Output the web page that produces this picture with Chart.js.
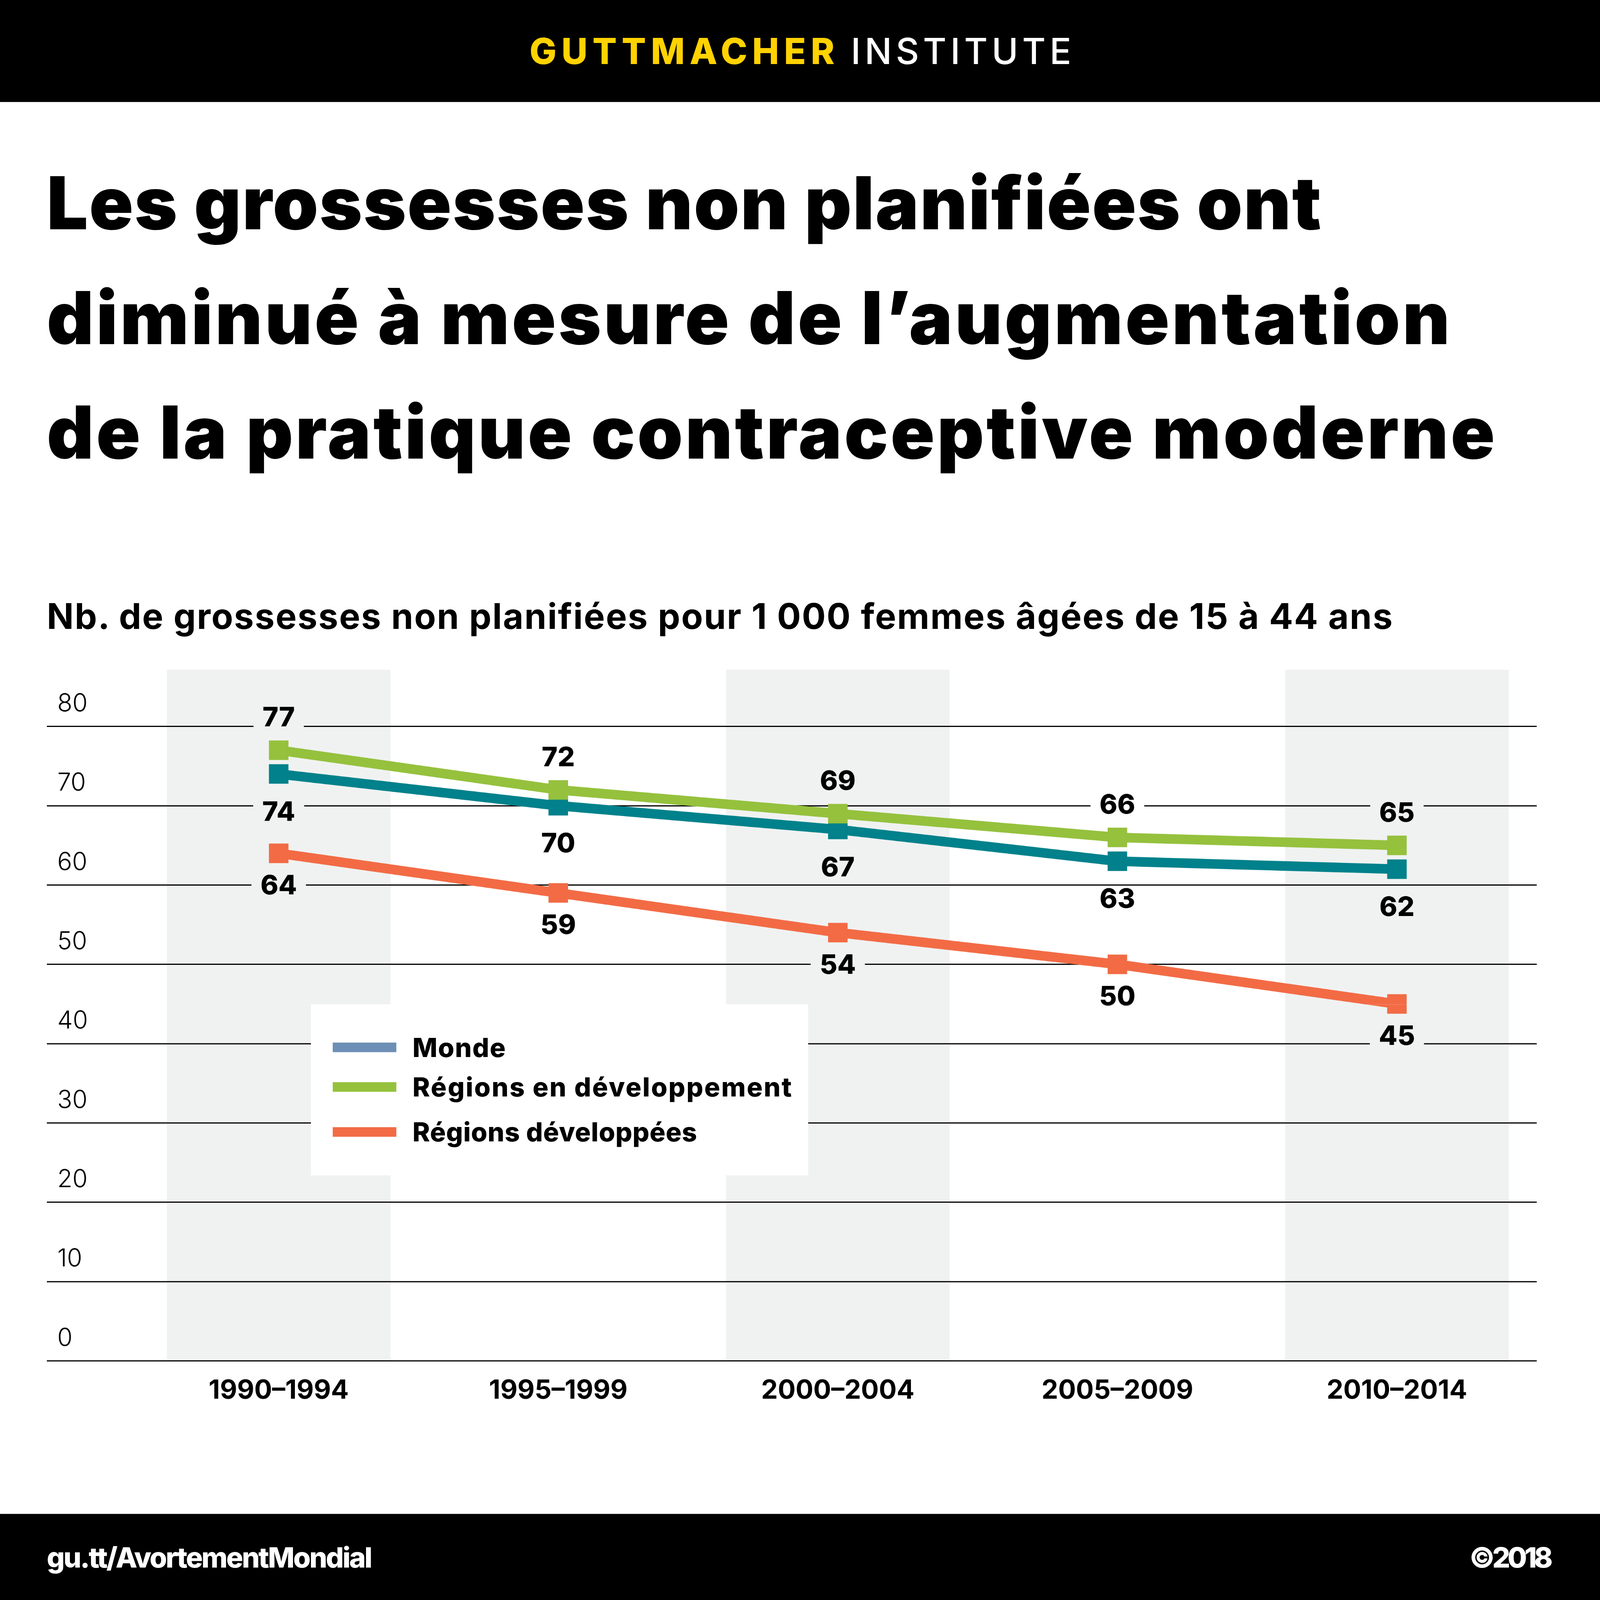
<!doctype html>
<html lang="fr">
<head>
<meta charset="utf-8">
<title>Grossesses non planifiées</title>
<script src="https://cdn.jsdelivr.net/npm/chart.js@4.4.1/dist/chart.umd.min.js"></script>
<style>
    :root { --k: 1; }
    html, body { margin: 0; padding: 0; overflow: hidden; background: #fff; }
    #page { position: absolute; left: 0; top: 0; width: 5333px; height: 4267px; transform-origin: 0 0;
            font-family: Inter, Lato, "Noto Sans", sans-serif; color: #000; background: #fff; }
    .t { position: absolute; line-height: 0; white-space: nowrap; }
    .bar { position: absolute; left: 0; width: 5333px; background: #000; }
    #topbar { top: 0; height: calc(272px * var(--k)); }
    #footbar { top: calc(4037px * var(--k)); height: calc(230px * var(--k)); }
    #brand1 { left: 1765px; top: calc(136px * var(--k)); font-size: 120px; font-weight: 800; color: #ffd200; }
    #brand2 { left: 2836px; top: calc(136px * var(--k)); font-size: 120px; font-weight: 500; color: #fff; }
    .title { left: 156px; font-size: 243px; font-weight: 900; }
    #t1 { top: calc(541px * var(--k)); }
    #t2 { top: calc(847px * var(--k)); }
    #t3 { top: calc(1153px * var(--k)); }
    #sub { left: 156px; top: calc(1643px * var(--k)); font-size: 118px; font-weight: 700; }
    #wrap { position: absolute; left: 0; top: calc(1700px * var(--k)); width: 5333px; height: calc(2200px * var(--k)); }
    #legend { position: absolute; left: 1036px; top: calc(2678px * var(--k)); width: 1657px;
              height: calc(455px * var(--k)); background: #fff; }
    #legend .t { left: 339px; font-size: 88px; font-weight: 800; }
    #legend .sw { position: absolute; left: 73px; width: 212px; height: 32px; margin-top: -16px; }
    #foot1 { left: 156px; top: calc(4153px * var(--k)); font-size: 94px; font-weight: 800; color: #fff; }
    #foot2 { left: 4897px; top: calc(4153px * var(--k)); font-size: 94px; font-weight: 800; color: #fff; }
</style>
</head>
<body>
<div id="page">
    <div class="bar" id="topbar"></div>
    <div class="t" id="brand1">GUTTMACHER</div>
    <div class="t" id="brand2">INSTITUTE</div>

    <div class="t title" id="t1">Les grossesses non planifiées ont</div>
    <div class="t title" id="t2">diminué à mesure de l’augmentation</div>
    <div class="t title" id="t3">de la pratique contraceptive moderne</div>
    <div class="t" id="sub">Nb. de grossesses non planifiées pour 1 000 femmes âgées de 15 à 44 ans</div>

    <div id="wrap"><canvas id="myChart"></canvas></div>
    <div id="legend"></div>

    <div class="bar" id="footbar"></div>
    <div class="t" id="foot1">gu.tt/AvortementMondial</div>
    <div class="t" id="foot2">©2018</div>
</div>

<script>
    // data
    var categories = ['1990–1994', '1995–1999', '2000–2004', '2005–2009', '2010–2014'];
    var monde = [74, 70, 67, 63, 62];
    var enDeveloppement = [77, 72, 69, 66, 65];
    var developpees = [64, 59, 54, 50, 45];
    var seriesNames = ['Monde', 'Régions en développement', 'Régions développées'];
    var yTicks = [0, 10, 20, 30, 40, 50, 60, 70, 80];

    var lineColors = ['#00818b', '#95c13d', '#f26b45'];
    var legendColors = ['#6e8fb5', '#95c13d', '#f26b45'];
    var labelShift = [103, -85, 88];   // value label offset from point
    var bandColor = '#f0f2f1';

    // the design is 5333 wide; stretch vertically to fill the window
    var s = window.innerWidth / 5333;
    var k = (window.innerHeight / s) / 4267;
    var page = document.getElementById('page');
    document.documentElement.style.setProperty('--k', k);
    page.style.transform = 'scale(' + s + ')';
    page.style.height = (4267 * k) + 'px';

    // legend built from the series names
    var legend = document.getElementById('legend');
    var rowTops = [115, 221, 341];
    seriesNames.forEach(function (name, i) {
        var sw = document.createElement('div');
        sw.className = 'sw';
        sw.style.top = (rowTops[i] * k) + 'px';
        sw.style.background = legendColors[i];
        legend.appendChild(sw);
        var row = document.createElement('div');
        row.className = 't';
        row.id = 'leg' + i;
        row.style.top = (rowTops[i] * k) + 'px';
        row.textContent = name;
        legend.appendChild(row);
    });

    // match the text widths of the original lettering
    function fitWidth(id, target) {
        var el = document.getElementById(id);
        var n = el.textContent.length;
        var w = el.offsetWidth;
        el.style.letterSpacing = ((target - w) / (n - 1)) + 'px';
    }
    fitWidth('brand1', 1017);
    fitWidth('brand2', 735);
    fitWidth('t1', 4248);
    fitWidth('t2', 4677);
    fitWidth('t3', 4827);
    fitWidth('sub', 4486);
    fitWidth('foot1', 1085);
    fitWidth('foot2', 279);
    fitWidth('leg0', 310);
    fitWidth('leg1', 1264);
    fitWidth('leg2', 948);

    // columns behind every other period
    var bandPlugin = {
        id: 'bands',
        beforeDraw: function (chart) {
            var ctx = chart.ctx, xs = chart.scales.x, ys = chart.scales.y;
            var w = (xs.getPixelForValue(1) - xs.getPixelForValue(0)) * 0.8;
            var top = ys.getPixelForValue(80) - 151 * k;
            var bottom = ys.getPixelForValue(0);
            ctx.save();
            ctx.fillStyle = bandColor;
            for (var i = 0; i < categories.length; i += 2) {
                ctx.fillRect(xs.getPixelForValue(i) - w / 2, top, w, bottom - top);
            }
            ctx.restore();
        }
    };

    // value labels, knocking out the grid lines behind them
    var labelPlugin = {
        id: 'valueLabels',
        beforeDatasetsDraw: function (chart) {
            var ctx = chart.ctx;
            ctx.save();
            ctx.font = '800 90px Inter, Lato, sans-serif';
            ctx.textAlign = 'center';
            ctx.textBaseline = 'middle';
            chart.data.datasets.forEach(function (ds, di) {
                chart.getDatasetMeta(di).data.forEach(function (pt, i) {
                    var txt = String(ds.data[i]);
                    var y = pt.y + labelShift[di] * k;
                    var tw = ctx.measureText(txt).width + 60;
                    ctx.fillStyle = (i % 2 === 0) ? bandColor : '#fff';
                    ctx.fillRect(pt.x - tw / 2, y - 42, tw, 84);
                    ctx.fillStyle = '#000';
                    ctx.fillText(txt, pt.x, y);
                });
            });
            ctx.restore();
        }
    };

    var seriesData = [monde, enDeveloppement, developpees];
    var datasets = seriesData.map(function (d, i) {
        return {
            label: seriesNames[i],
            data: d,
            borderColor: lineColors[i],
            backgroundColor: lineColors[i],
            borderWidth: 32,
            tension: 0,
            pointStyle: 'rect',
            pointRadius: 46,
            pointHoverRadius: 46,
            pointBorderWidth: 0,
            pointBackgroundColor: lineColors[i],
            order: i === 1 ? 0 : (i === 0 ? 1 : 2)
        };
    });

    var ctx = document.getElementById('myChart');
    var myChart = new Chart(ctx, {
        type: 'line',
        data: { labels: categories, datasets: datasets },
        plugins: [bandPlugin, labelPlugin],
        options: {
            responsive: true,
            maintainAspectRatio: false,
            devicePixelRatio: 1,
            animation: false,
            layout: { padding: { left: 191, right: 211, top: 237 * k, bottom: 71 * k } },
            plugins: { legend: { display: false }, tooltip: { enabled: false } },
            scales: {
                x: {
                    offset: true,
                    grid: { display: false, drawTicks: false },
                    border: { display: false },
                    ticks: { color: '#000', padding: 79 * k - 52, font: { family: 'Inter', size: 88, weight: 700 } },
                    afterFit: function (sc) { sc.height = 200 * k; }
                },
                y: {
                    min: 0,
                    max: 80,
                    afterBuildTicks: function (sc) { sc.ticks = yTicks.map(function (v) { return { value: v }; }); },
                    border: { display: false },
                    grid: { color: '#000', lineWidth: 4, drawTicks: true, tickLength: 307 },
                    ticks: { color: '#000', padding: 0, crossAlign: 'far', labelOffset: -60 * k,
                             font: { family: 'Inter', size: 82, weight: 300 } },
                    afterFit: function (sc) { sc.width = 272; }
                }
            }
        }
    });
</script>
</body>
</html>
